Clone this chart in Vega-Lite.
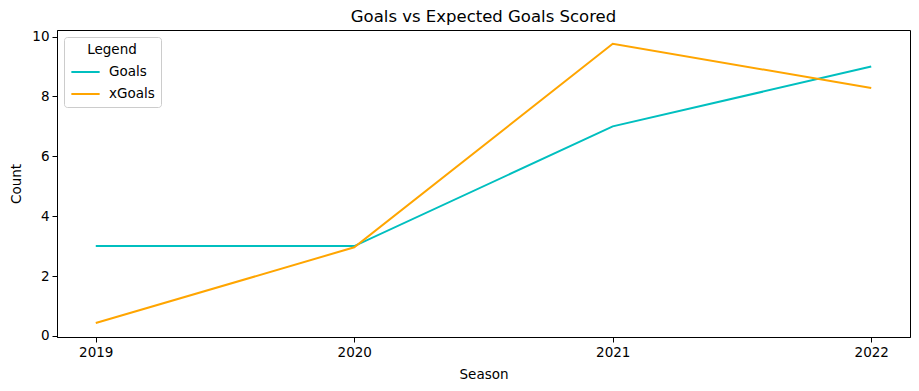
{
  "$schema": "https://vega.github.io/schema/vega-lite/v6.json",
  "autosize": {"type": "none"},
  "padding": {"left": 57, "top": 30, "right": 9, "bottom": 53},
  "width": 853,
  "height": 307,
  "background": "white",
  "title": {"text": "Goals vs Expected Goals Scored", "fontSize": 16.5, "fontWeight": "normal", "font": "DejaVu Sans", "color": "black", "anchor": "middle", "offset": 4},
  "data": {"values": [
    {"Season": 2019, "Count": 3, "Series": "Goals"},
    {"Season": 2020, "Count": 3, "Series": "Goals"},
    {"Season": 2021, "Count": 7, "Series": "Goals"},
    {"Season": 2022, "Count": 9, "Series": "Goals"},
    {"Season": 2019, "Count": 0.43, "Series": "xGoals"},
    {"Season": 2020, "Count": 2.96, "Series": "xGoals"},
    {"Season": 2021, "Count": 9.76, "Series": "xGoals"},
    {"Season": 2022, "Count": 8.28, "Series": "xGoals"}
  ]},
  "mark": {"type": "line", "strokeWidth": 2},
  "encoding": {
    "x": {"field": "Season", "type": "quantitative", "title": "Season",
      "scale": {"domain": [2018.85, 2022.15], "nice": false, "zero": false},
      "axis": {"values": [2019, 2020, 2021, 2022], "format": "d"}},
    "y": {"field": "Count", "type": "quantitative", "title": "Count",
      "scale": {"domain": [-0.036, 10.22], "nice": false, "zero": false},
      "axis": {"values": [0, 2, 4, 6, 8, 10], "format": "d"}},
    "color": {"field": "Series", "type": "nominal", "title": "Legend",
      "scale": {"domain": ["Goals", "xGoals"], "range": ["#00bfbf", "#ffa500"]}}
  },
  "config": {
    "font": "DejaVu Sans",
    "view": {"stroke": "black", "strokeWidth": 1},
    "axis": {
      "grid": false, "labelFontSize": 13.5, "titleFontSize": 13.5, "titleFontWeight": "normal",
      "labelColor": "black", "titleColor": "black", "domainColor": "black", "tickColor": "black",
      "tickSize": 5, "labelPadding": 3, "labelFont": "DejaVu Sans", "titleFont": "DejaVu Sans"
    },
    "axisX": {"titlePadding": 9},
    "axisY": {"titlePadding": 8, "labelAngle": 0},
    "legend": {
      "orient": "none", "legendX": 7, "legendY": 7,
      "fillColor": "white", "strokeColor": "#cccccc", "cornerRadius": 3, "padding": 6,
      "titleFontSize": 13.5, "titleFontWeight": "normal", "titleColor": "black", "titleAnchor": "middle", "titleAlign": "center",
      "labelFontSize": 13.5, "labelColor": "black", "symbolType": "stroke", "symbolSize": 800, "symbolStrokeWidth": 2,
      "labelOffset": 8, "rowPadding": -11, "titlePadding": 0
    }
  }
}
